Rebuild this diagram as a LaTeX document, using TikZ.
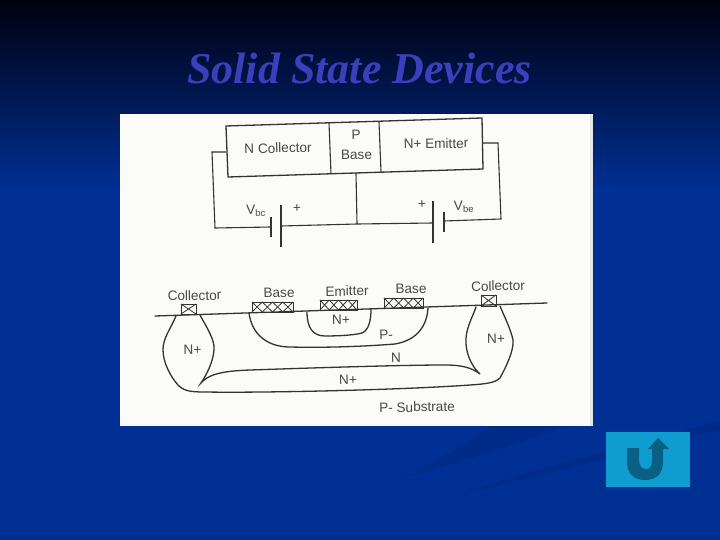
\documentclass[tikz,border=0pt]{standalone}
\usepackage{fontspec}
\setmainfont{Liberation Sans}
\newfontfamily\titlefont{Liberation Serif}
\usetikzlibrary{calc}
\definecolor{inktone}{HTML}{333333}
\definecolor{labeltone}{HTML}{484848}
\definecolor{paper}{HTML}{FBFBF9}
\definecolor{titleblue}{HTML}{3A40BC}
\definecolor{btnface}{HTML}{0F9DCF}
\definecolor{btnmark}{HTML}{0A5F85}
\definecolor{skytop}{HTML}{00000F}
\definecolor{skymid}{HTML}{001C5E}
\definecolor{skylow}{HTML}{003094}
\definecolor{swoosh}{HTML}{002B88}
\tikzset{
  wire/.style={draw=inktone,line width=1.1pt},
  plate/.style={draw=inktone,line width=1.1pt},
  well/.style={draw=inktone,line width=1.3pt,line cap=round},
  lbl/.style={text=labeltone,font=\fontsize{13.6}{15}\selectfont,inner sep=0pt,rotate=1},
  contact/.style={draw=inktone,line width=1pt}
}
\begin{document}
\begin{tikzpicture}[x=1pt,y=-1pt]
\useasboundingbox (0,0) rectangle (720,540);
\fill[skylow] (0,0) rectangle (720,540);
\shade[top color=skytop,middle color=skymid,bottom color=skylow] (0,0) rectangle (720,191);
\fill[swoosh] (400,479) .. controls (450,465) and (530,440) .. (567,426) -- (490,426) .. controls (465,445) and (430,465) .. (400,479) -- cycle;
\fill[swoosh] (450,498) .. controls (520,480) and (640,450) .. (720,430) -- (720,420) .. controls (650,442) and (530,468) .. (450,498) -- cycle;

\node[text=titleblue,font=\titlefont\bfseries\itshape\fontsize{44}{48}\selectfont,inner sep=0pt] (title) at (359.5,68) {Solid State Devices};

\fill[paper] (120,114) rectangle (593,426);
\fill[black!10] (590,114) rectangle (593,426);

% transistor block
\coordinate (TL) at (226,126);
\coordinate (TR) at (482,118);
\coordinate (BR) at (483,169);
\coordinate (BL) at (228,177);
\draw[wire,line width=1.3pt] (TL) -- (TR) -- (BR) -- (BL) -- cycle;
\coordinate (D1a) at (329,123);
\coordinate (D1b) at (331,174);
\coordinate (D2a) at (379,122);
\coordinate (D2b) at (381,172);
\draw[wire] (D1a) -- (D1b);
\draw[wire] (D2a) -- (D2b);
\node[lbl] (ncoll) at (278,148) {N Collector};
\node[lbl] (pbase) at (356,135) {P};
\node[lbl] (pbaseb) at (356.5,155) {Base};
\node[lbl] (nemit) at (436,143.5) {N+ Emitter};

% bias circuit
\coordinate (W1) at (226,152);
\coordinate (W2) at (212,152);
\coordinate (W3) at (215,228);
\coordinate (B1) at (271,227);
\coordinate (B1t) at (271,217);
\coordinate (B1b) at (271,237);
\coordinate (B2) at (281,226);
\coordinate (B2t) at (281,205);
\coordinate (B2b) at (281,247);
\coordinate (J) at (357,224);
\coordinate (Jt) at (356,173);
\coordinate (B3) at (433,223);
\coordinate (B3t) at (433,201);
\coordinate (B3b) at (433,243);
\coordinate (B4) at (444,221);
\coordinate (B4t) at (444,212);
\coordinate (B4b) at (444,232);
\coordinate (W4) at (501,219);
\coordinate (W5) at (498,143);
\coordinate (W6) at (483,143);
\draw[wire] (W1) -- (W2) -- (W3) -- (B1);
\draw[wire] (B2) -- (J) -- (B3);
\draw[wire] (B4) -- (W4) -- (W5) -- (W6);
\draw[wire] (Jt) -- (J);
\foreach \ta/\tb in {B1t/B1b,B2t/B2b,B3t/B3b,B4t/B4b}
  \draw[plate] (\ta) -- (\tb);
\node[lbl] (vbc) at (256,211) {V\textsubscript{bc}};
\node[lbl] (pl1) at (297,209) {+};
\node[lbl] (pl2) at (422,205) {+};
\node[lbl] (vbe) at (464,207) {V\textsubscript{be}};

% cross section
\coordinate (S1) at (155,316);
\coordinate (S2) at (547,303);
\draw[well] (S1) -- (S2);
\foreach \name/\xa/\ya/\xb/\yb/\n in
    {cl/181/304/196/314/1,bl/252/302/293/312/4,em/320/300/357/310/4,br/384/298/423/308/4,cr/481/295/496/306/1}
{
  \draw[contact] (\xa,\ya) rectangle (\xb,\yb);
  \coordinate (\name) at (\xa,\ya);
  \foreach \i in {1,...,\n}
    \draw[contact,line width=.8pt] ({\xa+(\i-1)*(\xb-\xa)/\n},\ya) -- ({\xa+\i*(\xb-\xa)/\n},\yb)
      ({\xa+(\i-1)*(\xb-\xa)/\n},\yb) -- ({\xa+\i*(\xb-\xa)/\n},\ya);
}
\node[lbl] (cola) at (194.5,295.5) {Collector};
\node[lbl] (basea) at (279,293) {Base};
\node[lbl] (emita) at (347,291) {Emitter};
\node[lbl] (baseb) at (411,289) {Base};
\node[lbl] (colb) at (498,286) {Collector};

\draw[well] (249,313) .. controls (252,335) and (268,347) .. (290,347)
  .. controls (330,348) and (370,346) .. (395,344)
  .. controls (418,340) and (427,325) .. (428,308);
\draw[well] (307,312) .. controls (307,328) and (313,336) .. (325,336)
  .. controls (340,336) and (355,335) .. (362,333)
  .. controls (369,330) and (371,320) .. (371,309);
\draw[well] (176,316) .. controls (170,330) and (163,338) .. (163,350)
  .. controls (163,362) and (170,376) .. (178,385)
  .. controls (184,391) and (190,392) .. (205,392)
  .. controls (260,393) and (400,390) .. (470,385)
  .. controls (485,384) and (495,383) .. (500,378)
  .. controls (507,365) and (514,350) .. (513,340)
  .. controls (511,330) and (505,318) .. (500,306);
\draw[well] (200,315) .. controls (207,328) and (215,340) .. (214,350)
  .. controls (213,362) and (207,374) .. (201,383)
  .. controls (208,375) and (220,371) .. (250,370)
  .. controls (310,368) and (400,365) .. (445,365)
  .. controls (463,365) and (472,368) .. (480,374)
  .. controls (470,365) and (465,350) .. (466,338)
  .. controls (467,326) and (473,316) .. (476,307);

\node[lbl] (nplusa) at (192.5,350) {N+};
\node[lbl] (nplusb) at (341,320) {N+};
\node[lbl] (pminus) at (386,335) {P-};
\node[lbl] (nmid) at (396,357.5) {N};
\node[lbl] (nplusc) at (348,380) {N+};
\node[lbl] (nplusd) at (496,339) {N+};
\node[lbl] (subst) at (417,407) {P- Substrate};

% return button
\node[fill=btnface,minimum width=84pt,minimum height=55pt,inner sep=0pt] (btn) at (648,459.5) {};
\fill[btnmark] (627,448) -- (639,448) -- (639,460) .. controls (639,466) and (642,469) .. (646,469)
  .. controls (650,469) and (652,466) .. (652,460) -- (652,449) -- (648,449) -- (658,438) -- (669,449) -- (663,449) -- (663,462)
  .. controls (663,474) and (656,480) .. (645,480) .. controls (634,480) and (627,474) .. (627,462) -- cycle;
\end{tikzpicture}
\end{document}
